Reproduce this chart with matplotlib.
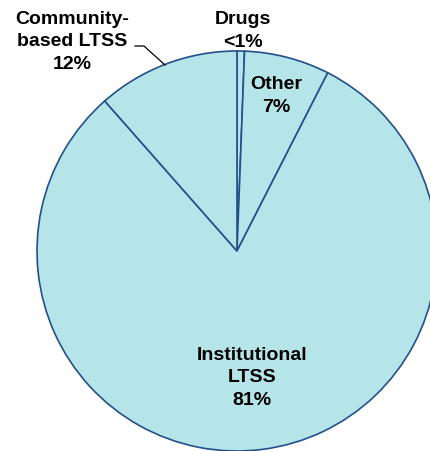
import matplotlib
matplotlib.use("Agg")
import matplotlib.pyplot as plt

# spending shares, clockwise from 12 o'clock
labels = ["Drugs", "Other", "Institutional\nLTSS", "Community-\nbased LTSS"]
shares = [0.6, 6.9, 81.0, 11.5]
pct_text = ["<1%", "7%", "81%", "12%"]

fill = "#B5E5E8"
edge = "#23508A"

fig = plt.figure(figsize=(4.31, 4.51), dpi=100)
ax = fig.add_axes([0, 0, 1, 1])
ax.set_xlim(0, 431)
ax.set_ylim(0, 451)
ax.set_aspect("equal")
ax.axis("off")

cx, cy, r = 237, 451 - 251, 200
ax.pie(shares, startangle=90, counterclock=False, center=(cx, cy), radius=r,
       colors=[fill] * len(shares),
       wedgeprops=dict(edgecolor=edge, linewidth=1.2))
ax.set_xlim(0, 431)
ax.set_ylim(0, 451)

font = dict(family=["Liberation Sans", "DejaVu Sans"], fontsize=14,
            fontweight="bold", ha="center", va="center", linespacing=1.42)

ax.text(243, 451 - 31, labels[0] + "\n" + pct_text[0], **font)
ax.text(276, 451 - 96, labels[1] + "\n" + pct_text[1], **font)
ax.text(252, 451 - 378, labels[2] + "\n" + pct_text[2], **font)
ax.text(72, 451 - 42, labels[3] + "\n" + pct_text[3], **font)

# leader line for the community-based label
ax.plot([135, 144, 165], [451 - 46, 451 - 46, 451 - 65], color="black", lw=0.9)

fig.savefig("out.png", dpi=100)
